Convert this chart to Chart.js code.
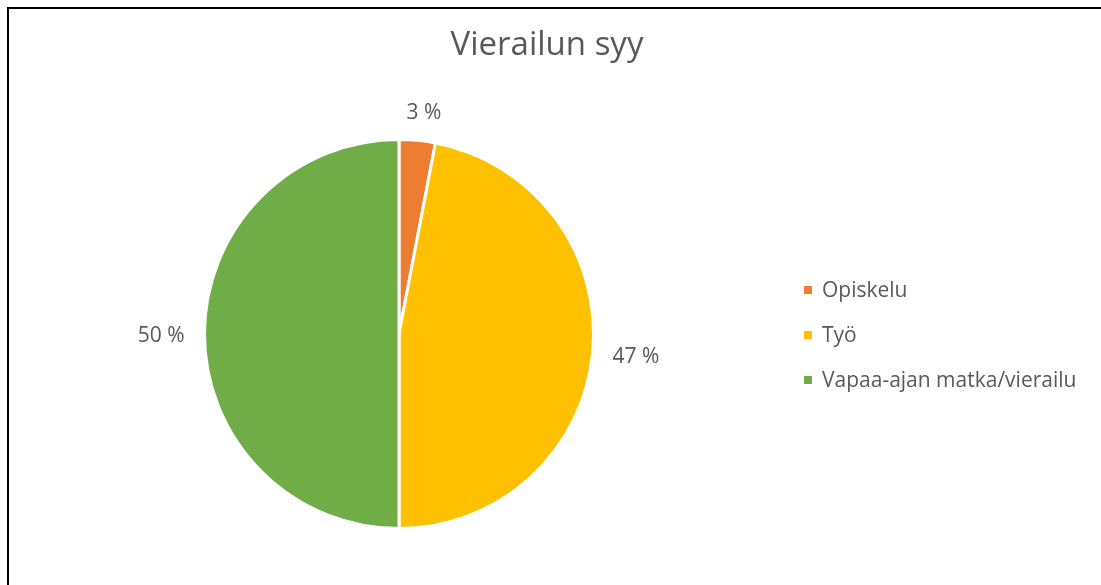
<!DOCTYPE html>
<html>
<head>
<meta charset="utf-8">
<script src="https://cdn.jsdelivr.net/npm/chart.js@4"></script>
<style>
  html, body { margin: 0; padding: 0; background: #fff; }
  #wrap { position: absolute; left: 0; top: 0; width: 1101px; height: 585px; }
  #frame { position: absolute; left: 7px; top: 7px; width: 1094px; height: 578px;
           border-left: 2px solid #000; border-top: 2px solid #000; box-sizing: border-box; }
</style>
</head>
<body>
<div id="wrap"><canvas id="pieChart" width="1101" height="585"></canvas></div>
<div id="frame"></div>
<script>
// data
const categories = ['Opiskelu', 'Työ', 'Vapaa-ajan matka/vierailu'];
const shares = [3, 47, 50];
const sliceColors = ['#ED7D31', '#FFC000', '#70AD47'];
const chartTitle = 'Vierailun syy';

const textColor = '#595959';
const fontName = "'Open Sans', sans-serif";

// title, percentage labels and legend drawn on top of the pie
const decorPlugin = {
    id: 'decor',
    afterDraw(chart) {
        const c = chart.ctx;
        c.save();
        c.fillStyle = textColor;

        // title
        c.font = '33px ' + fontName;
        c.textAlign = 'center';
        c.textBaseline = 'alphabetic';
        c.fillText(chartTitle, 547, 55);

        // outside-end labels
        c.font = '21px ' + fontName;
        c.textBaseline = 'middle';
        const meta = chart.getDatasetMeta(0);
        meta.data.forEach((arc, i) => {
            const mid = (arc.startAngle + arc.endAngle) / 2;
            const r = arc.outerRadius + 20;
            const label = shares[i] + ' %';
            const w = c.measureText(label).width;
            const h = 18;
            const px = arc.x + Math.cos(mid) * r + Math.cos(mid) * w / 2;
            const py = arc.y + Math.sin(mid) * r + Math.sin(mid) * h / 2 + 2;
            c.textAlign = 'center';
            c.fillText(label, px + (i === 0 ? 3 : 0), py);
        });

        // legend
        c.textAlign = 'left';
        categories.forEach((name, i) => {
            const y = 291 + i * 45;
            c.fillStyle = sliceColors[i];
            c.fillRect(804, y - 5, 8, 8);
            c.fillStyle = textColor;
            c.fillText(name, 822, y);
        });
        c.restore();
    }
};

new Chart(document.getElementById('pieChart').getContext('2d'), {
    type: 'pie',
    data: {
        labels: categories,
        datasets: [{
            data: shares,
            backgroundColor: sliceColors,
            borderColor: '#ffffff',
            borderWidth: 3,
            hoverOffset: 0,
            offset: 0
        }]
    },
    options: {
        responsive: false,
        animation: false,
        events: [],
        layout: { padding: { left: 203, right: 506, top: 138, bottom: 55 } },
        plugins: {
            legend: { display: false },
            title: { display: false },
            tooltip: { enabled: false }
        }
    },
    plugins: [decorPlugin]
});
</script>
</body>
</html>
